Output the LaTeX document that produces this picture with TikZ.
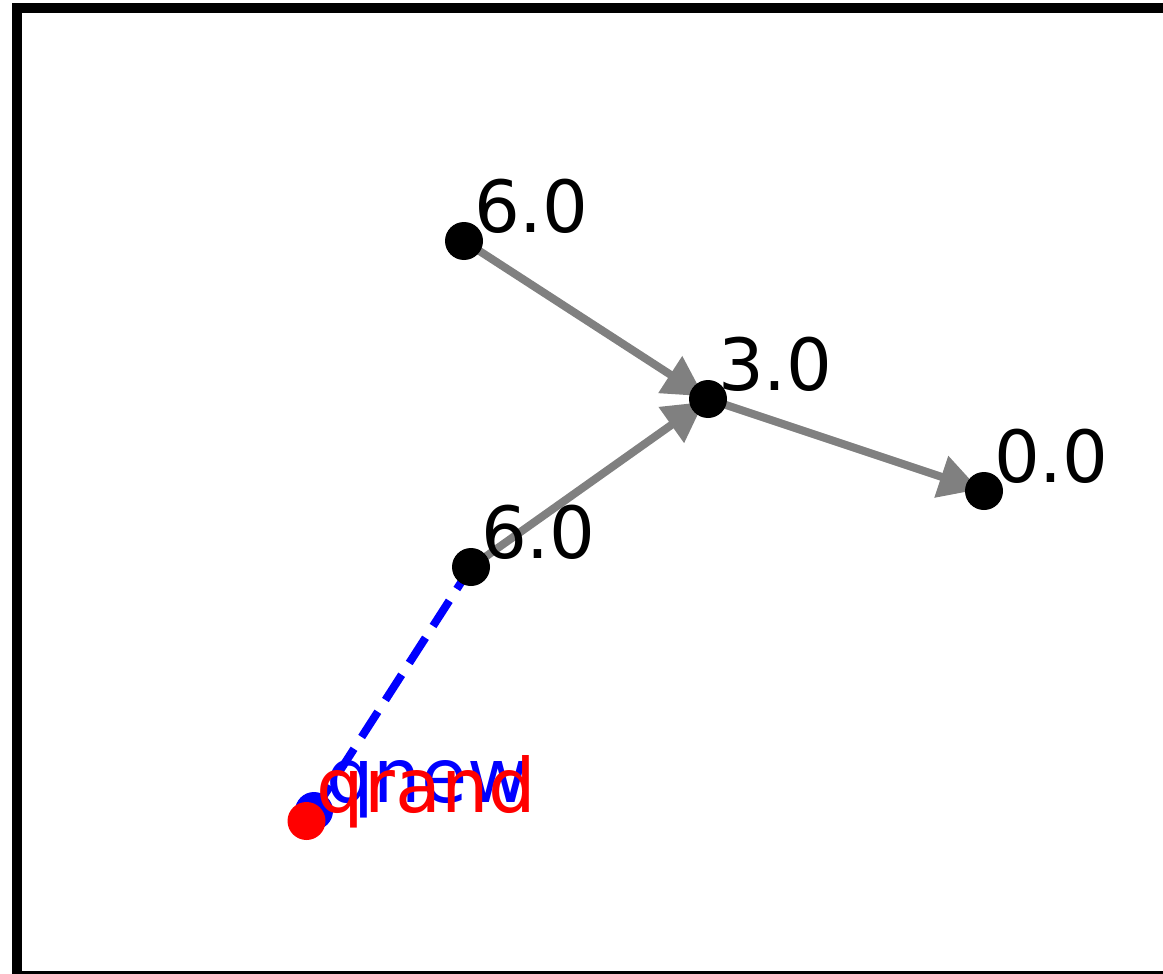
\documentclass[tikz,border=0pt]{standalone}
\usepackage{fontspec}
\setmainfont{DejaVu Sans}
\usetikzlibrary{arrows.meta,backgrounds}
\definecolor{edgegray}{HTML}{808080}
\definecolor{newblue}{HTML}{0000FF}
\definecolor{randred}{HTML}{FF0000}

\begin{document}
\begin{tikzpicture}[x=1pt, y=-1pt,
  vertex/.style={circle, fill=black, inner sep=0pt, minimum size=38pt},
  arrow/.style={-{Triangle[length=40pt, width=42pt]}, line width=8pt, edgegray, shorten >=5pt},
  darrow/.style={line width=8pt, newblue, dash pattern=on 30pt off 14pt},
  lbl/.style={anchor=base west, inner sep=0pt, font=\fontsize{72}{72}\selectfont},
  ptlbl/.style={lbl, font=\fontsize{75}{75}\selectfont},
]
\useasboundingbox (0,0) rectangle (1163,974);
\draw[line width=10pt] (16.5,8) rectangle (1175,975.5);

% tree vertices
\node[vertex] (top) at (464,241) {};
\node[vertex] (mid) at (708,399) {};
\node[vertex] (goal) at (984,491) {};
\node[vertex] (near) at (471,567) {};

% sampled points
\node[vertex, fill=newblue] (qnew) at (314,811) {};
\node[vertex, fill=randred] (qrand) at (306.5,821) {};

% costs
\node[lbl] (topcost) at ([xshift=10pt, yshift=9pt]top.center) {6.0};
\node[lbl] (midcost) at ([xshift=10pt, yshift=9pt]mid.center) {3.0};
\node[lbl] (goalcost) at ([xshift=10pt, yshift=9pt]goal.center) {0.0};
\node[lbl] (nearcost) at ([xshift=10pt, yshift=9pt]near.center) {6.0};
\node[ptlbl, text=newblue] (qnewlbl) at ([xshift=12pt, yshift=9pt]qnew.center) {qnew};
\node[ptlbl, text=randred] (qrandlbl) at ([xshift=10pt, yshift=9pt]qrand.center) {qrand};

% edges
\begin{scope}[on background layer]
\draw[arrow] (top.center) -- (mid.center);
\draw[arrow] (near.center) -- (mid.center);
\draw[arrow] (mid.center) -- (goal.center);
\draw[darrow] (qnew.center) -- (near.center);
\end{scope}

\end{tikzpicture}
\end{document}
